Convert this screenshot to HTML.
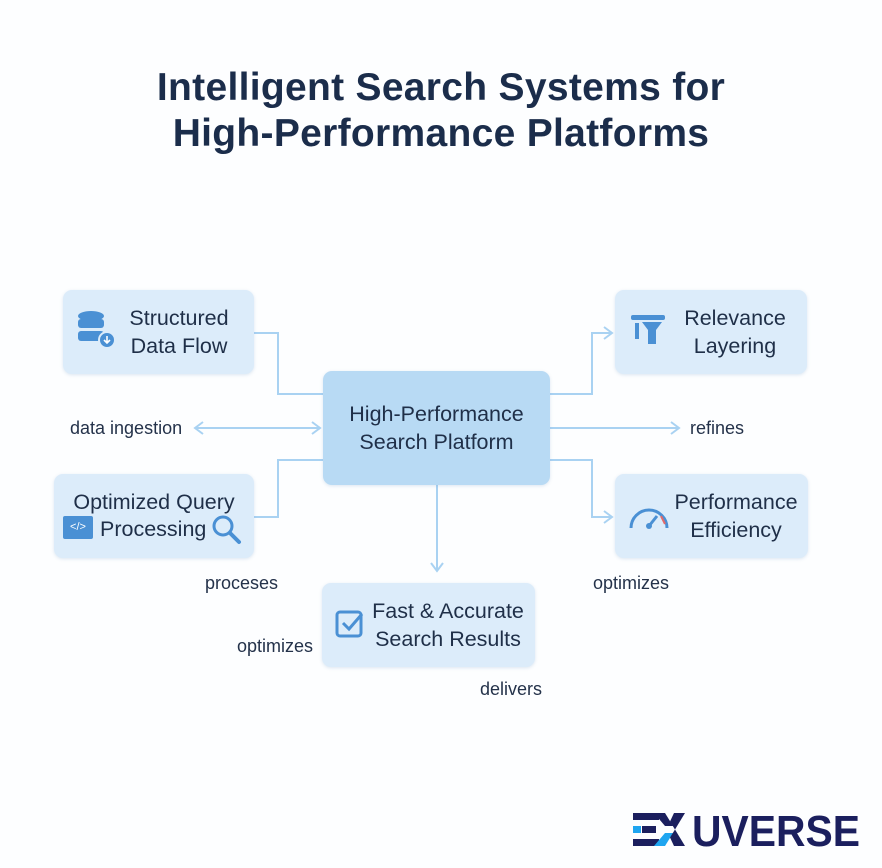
<!DOCTYPE html>
<html><head><meta charset="utf-8"><style>
body{margin:0;width:882px;height:868px;background:#fdfeff;font-family:"Liberation Sans",sans-serif;position:relative;overflow:hidden}
.t{position:absolute;left:0;width:882px;text-align:center;font-weight:bold;font-size:39px;color:#1b2d4b;letter-spacing:0.3px}
.b{position:absolute;background:#dcecfa;border-radius:9px;box-shadow:0 1px 3px rgba(120,160,200,.25);color:#1f2f48;font-size:21.5px;line-height:28px}
.b .tx{position:absolute;text-align:center;white-space:nowrap}
.l{position:absolute;font-size:18px;color:#24324a}
</style></head><body>
<div class="t" style="top:66px">Intelligent Search Systems for</div>
<div class="t" style="top:112px">High-Performance Platforms</div>

<svg style="position:absolute;left:0;top:0" width="882" height="868" fill="none" stroke="#a9d2f2" stroke-width="2">
<polyline points="254,333 278,333 278,394 323,394"/>
<polyline points="254,517 278,517 278,460 323,460"/>
<line x1="195" y1="428" x2="320" y2="428"/>
<polyline points="203,422 195,428 203,434"/><polyline points="312,422 320,428 312,434"/>
<polyline points="550,394 592,394 592,333 612,333"/><polyline points="604,327 612,333 604,339"/>
<line x1="550" y1="428" x2="679" y2="428"/><polyline points="671,422 679,428 671,434"/>
<polyline points="550,460 592,460 592,517 612,517"/><polyline points="604,511 612,517 604,523"/>
<line x1="437" y1="485" x2="437" y2="571"/><polyline points="431,563 437,571 443,563"/>
</svg>

<div class="b" style="left:63px;top:290px;width:191px;height:84px">
<svg style="position:absolute;left:14px;top:20px" width="42" height="44"><g fill="#4a90d4"><ellipse cx="14" cy="6" rx="13" ry="5"/><rect x="1" y="9" width="26" height="9" rx="3"/><rect x="1" y="21" width="26" height="10" rx="3"/></g><circle cx="30" cy="30" r="8" fill="#4a90d4" stroke="#dcecfa" stroke-width="2"/><path d="M30 26v7M27 30l3 3 3-3" stroke="#fff" stroke-width="1.6" fill="none"/></svg>
<div class="tx" style="left:58px;width:116px;top:14px">Structured<br>Data Flow</div></div>

<div class="b" style="left:54px;top:474px;width:200px;height:84px">
<div class="tx" style="left:0;width:200px;top:14px">Optimized Query</div>
<div style="position:absolute;left:9px;top:42px;width:30px;height:23px;background:#4a90d4;border-radius:2px;color:#fff;font-size:11px;line-height:23px;text-align:center">&lt;/&gt;</div>
<div class="tx" style="left:46px;top:41px">Processing</div>
<svg style="position:absolute;left:157px;top:40px" width="34" height="32"><circle cx="12" cy="12" r="9" stroke="#4a90d4" stroke-width="3" fill="none"/><path d="M19 19l9 9" stroke="#4a90d4" stroke-width="4" stroke-linecap="round"/></svg></div>

<div class="b" style="left:323px;top:371px;width:227px;height:114px;background:#b8daf4">
<div class="tx" style="left:0;width:227px;top:29px">High-Performance<br>Search Platform</div></div>

<div class="b" style="left:615px;top:290px;width:192px;height:84px">
<svg style="position:absolute;left:14px;top:22px" width="40" height="36"><rect x="2" y="3" width="34" height="5" rx="2" fill="#4a90d4"/><rect x="6" y="11" width="4" height="16" fill="#4a90d4"/><path d="M13 10h20l-6 8v14h-8v-14z" fill="#4a90d4"/></svg>
<div class="tx" style="left:56px;width:128px;top:14px">Relevance<br>Layering</div></div>

<div class="b" style="left:615px;top:474px;width:193px;height:84px">
<svg style="position:absolute;left:12px;top:28px" width="44" height="30"><path d="M4 26a18 18 0 0 1 36 0" stroke="#4a90d4" stroke-width="3" fill="none"/><path d="M22 24l8-10" stroke="#4a90d4" stroke-width="3"/><circle cx="22" cy="24" r="3" fill="#4a90d4"/><path d="M34 14l4 8" stroke="#e26a6a" stroke-width="2"/></svg>
<div class="tx" style="left:56px;width:130px;top:14px">Performance<br>Efficiency</div></div>

<div class="b" style="left:322px;top:583px;width:213px;height:84px">
<svg style="position:absolute;left:12px;top:24px" width="34" height="34"><rect x="3" y="5" width="24" height="24" rx="3" stroke="#4a90d4" stroke-width="3" fill="none"/><path d="M9 16l6 6 13-15" stroke="#4a90d4" stroke-width="3" fill="none"/></svg>
<div class="tx" style="left:46px;width:160px;top:14px">Fast &amp; Accurate<br>Search Results</div></div>

<div class="l" style="left:70px;top:418px">data ingestion</div>
<div class="l" style="left:690px;top:418px">refines</div>
<div class="l" style="left:205px;top:573px">proceses</div>
<div class="l" style="left:237px;top:636px">optimizes</div>
<div class="l" style="left:480px;top:679px">delivers</div>
<div class="l" style="left:593px;top:573px">optimizes</div>

<svg style="position:absolute;left:630px;top:810px" width="240" height="44">
<g fill="#1b1f5e"><rect x="3" y="3" width="26" height="7"/><rect x="3" y="29" width="26" height="7"/><rect x="12" y="16" width="14" height="7"/></g>
<rect x="3" y="16" width="8" height="7" fill="#1ea5f0"/>
<path d="M24 3h11l8 13-8 0z" fill="#1b1f5e"/><path d="M24 36h11l8-13h-8z" fill="#1ea5f0"/>
<path d="M44 3h11l-10 16.5 -5-8z" fill="#1b1f5e"/><path d="M44 36h11l-10-16.5-5 8z" fill="#1b1f5e"/>
<text x="62" y="36" font-family="Liberation Sans" font-weight="bold" font-size="44" fill="#1b1f5e" textLength="168" lengthAdjust="spacingAndGlyphs">UVERSE</text>
</svg>
</body></html>
